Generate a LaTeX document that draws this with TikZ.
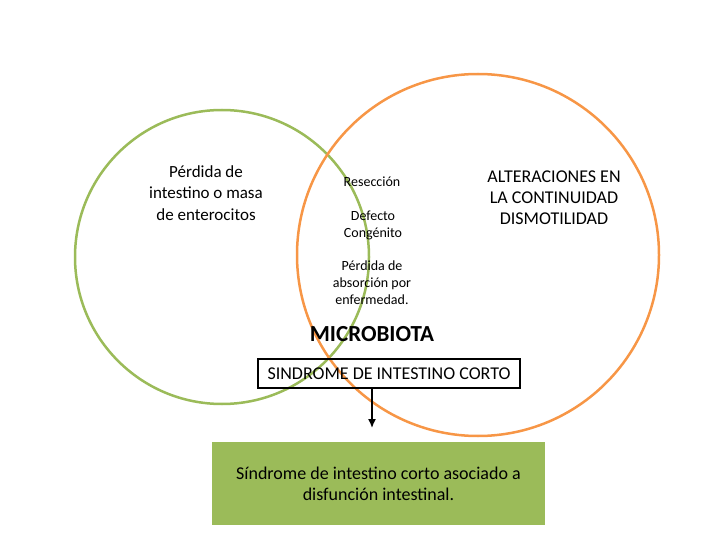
\documentclass[tikz,border=0pt]{standalone}
\usepackage{fontspec}
\setmainfont{Carlito}
\usetikzlibrary{positioning,arrows.meta}
\definecolor{ringgreen}{HTML}{9BBB59}
\definecolor{ringorange}{HTML}{F79646}
\tikzset{
	lbl/.style={align=center,font=\fontsize{18}{21}\selectfont},
	small/.style={align=center,font=\fontsize{14}{17}\selectfont}
}
\begin{document}
\begin{tikzpicture}[>=latex,x=1pt,y=-1pt]
	\useasboundingbox (0,0) rectangle (720,540);
	% rings
	\draw[ringgreen,line width=2.5pt] (222,257) circle (147);
	\draw[ringorange,line width=2.5pt] (478,255) circle (181);
	% texts inside
	\node[align=center,font=\fontsize{17}{21.5}\selectfont] (loss) at (206,193) {Pérdida de\\intestino o masa\\de enterocitos};
	\node[small] (res) at (372,182) {Resección};
	\node[small] (def) at (373,225) {Defecto\\Congénito};
	\node[small] (abs) at (372,283) {Pérdida de\\absorción por\\enfermedad.};
	\node[lbl] (alt) at (554,198) {ALTERACIONES EN\\LA CONTINUIDAD\\DISMOTILIDAD};
	\node[font=\fontsize{23}{26}\selectfont\bfseries] (micro) at (372,334) {MICROBIOTA};
	% boxes
	\node[lbl,draw,line width=2pt,minimum width=262,minimum height=29,inner sep=0pt] (sic) at (389,373.5) {SINDROME DE INTESTINO CORTO};
	\node[lbl,fill=ringgreen,minimum width=333,minimum height=83,inner sep=0pt] (dys) at (378.5,483.5) {Síndrome de intestino corto asociado a\\disfunción intestinal.};
	\draw[-{Latex[length=9pt,width=8pt]},line width=1.5pt] (sic.south -| 372,0) -- (372,428);
\end{tikzpicture}
\end{document}
